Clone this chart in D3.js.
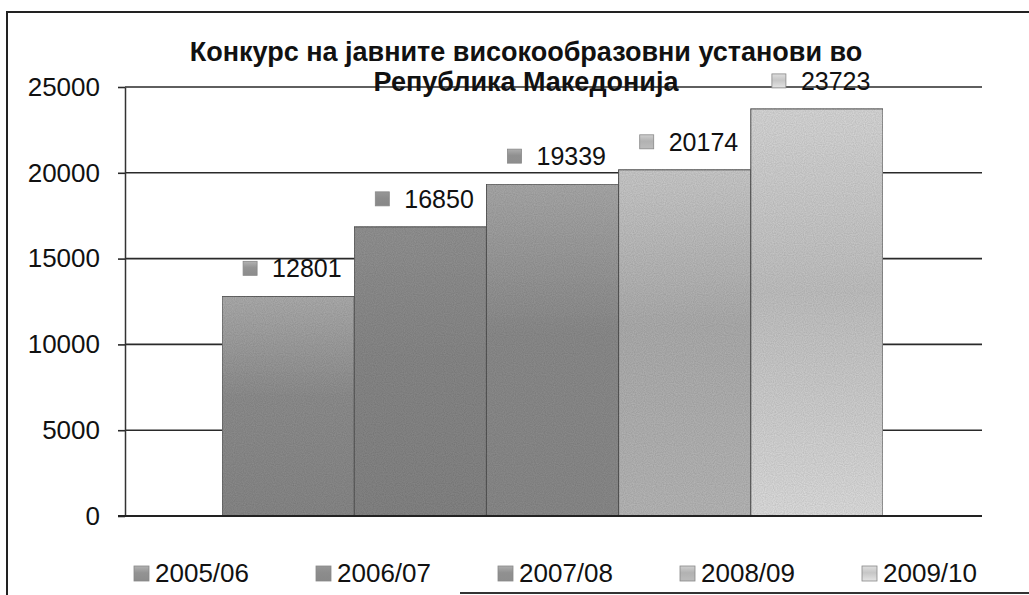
<!DOCTYPE html>
<html>
<head>
<meta charset="UTF-8">
<title>Конкурс</title>
<script src="https://d3js.org/d3.v7.min.js"></script>
<style>
    body, html { margin: 0; padding: 0; background: #fff; }
    svg { display: block; font-family: "Liberation Sans", Arial, sans-serif; }
    .tick text { font-size: 26px; fill: #111; }
</style>
</head>
<body>
<div id="chart"></div>
<script>
    // data
    const categories = ["2005/06", "2006/07", "2007/08", "2008/09", "2009/10"];
    const values = [12801, 16850, 19339, 20174, 23723];
    const yTicks = [0, 5000, 10000, 15000, 20000, 25000];
    const titleLines = ["Конкурс на јавните високообразовни установи во", "Република Македонија"];
    // gradient stops per series (top, middle, bottom)
    const barShades = [
        ["#b2b2b2", "#939393", "#8c8c8c"],
        ["#979797", "#8c8c8c", "#888888"],
        ["#aeaeae", "#909090", "#8e8e8e"],
        ["#d0d0d0", "#b2b2b2", "#bcbcbc"],
        ["#dedede", "#c6c6c6", "#e4e4e4"]
    ];

    const width = 1029, height = 595;
    const svg = d3.select("#chart").append("svg")
        .attr("width", width)
        .attr("height", height);

    const defs = svg.append("defs");
    barShades.forEach((s, i) => {
        const g = defs.append("linearGradient")
            .attr("id", "grad" + i)
            .attr("x1", 0).attr("y1", 0).attr("x2", 0).attr("y2", 1);
        g.append("stop").attr("offset", "0%").attr("stop-color", s[0]);
        g.append("stop").attr("offset", "45%").attr("stop-color", s[1]);
        g.append("stop").attr("offset", "100%").attr("stop-color", s[2]);
    });

    // grainy scan look
    const f = defs.append("filter").attr("id", "grain")
        .attr("x", 0).attr("y", 0).attr("width", 1).attr("height", 1);
    f.append("feTurbulence").attr("type", "fractalNoise")
        .attr("baseFrequency", 0.9).attr("numOctaves", 1).attr("seed", 3).attr("result", "noise");
    f.append("feColorMatrix").attr("in", "noise").attr("type", "matrix")
        .attr("values", "0 0 0 0 0  0 0 0 0 0  0 0 0 0 0  0 0 0 0.35 0").attr("result", "dots");
    f.append("feComposite").attr("in", "dots").attr("in2", "SourceGraphic").attr("operator", "in").attr("result", "d2");
    f.append("feMerge").call(m => {
        m.append("feMergeNode").attr("in", "SourceGraphic");
        m.append("feMergeNode").attr("in", "d2");
    });

    const plotLeft = 125, plotRight = 982;
    const y = d3.scaleLinear().domain([0, 25000]).range([516, 87]);
    const x = d3.scaleBand().domain(categories).range([222, 883]).paddingInner(0);

    // outer frame
    svg.append("path")
        .attr("d", "M7,595 L7,12 L1029,12")
        .attr("fill", "none").attr("stroke", "#222").attr("stroke-width", 2);
    svg.append("line")
        .attr("x1", 460).attr("x2", 1029).attr("y1", 593).attr("y2", 593)
        .attr("stroke", "#333").attr("stroke-width", 2);

    // gridlines
    svg.append("g").selectAll("line")
        .data(yTicks)
        .join("line")
        .attr("x1", plotLeft).attr("x2", plotRight)
        .attr("y1", d => y(d)).attr("y2", d => y(d))
        .attr("stroke", "#2a2a2a").attr("stroke-width", 1.6);

    // y axis
    const yAxis = svg.append("g")
        .attr("transform", `translate(${plotLeft},0)`)
        .call(d3.axisLeft(y).tickValues(yTicks).tickSize(7).tickSizeOuter(0).tickPadding(18).tickFormat(d3.format("d")));
    yAxis.select(".domain").attr("stroke", "#333").attr("stroke-width", 1.5);
    yAxis.selectAll(".tick line").attr("stroke", "#2a2a2a").attr("stroke-width", 1.6);
    yAxis.selectAll(".tick text").attr("font-family", "Liberation Sans, Arial, sans-serif");

    // bars
    svg.append("g").selectAll("rect")
        .data(values)
        .join("rect")
        .attr("x", (d, i) => x(categories[i]))
        .attr("y", d => y(d))
        .attr("width", x.bandwidth())
        .attr("height", d => y(0) - y(d))
        .attr("fill", (d, i) => `url(#grad${i})`)
        .attr("stroke", "#555")
        .attr("stroke-width", 1)
        .attr("filter", "url(#grain)");

    // x baseline
    svg.append("line")
        .attr("x1", plotLeft - 7).attr("x2", plotRight)
        .attr("y1", y(0)).attr("y2", y(0))
        .attr("stroke", "#222").attr("stroke-width", 1.8);

    // data labels
    const lab = svg.append("g").selectAll("g")
        .data(values)
        .join("g")
        .attr("transform", (d, i) => `translate(${x(categories[i]) + x.bandwidth() / 2},${y(d) - 19})`);
    lab.append("rect")
        .attr("x", -45).attr("y", -16).attr("width", 14).attr("height", 14)
        .attr("fill", (d, i) => `url(#grad${i})`)
        .attr("stroke", "#888").attr("stroke-width", 0.8);
    lab.append("text")
        .attr("x", -16).attr("y", 0)
        .attr("font-size", 25).attr("fill", "#111")
        .text(d => d);

    // title
    svg.append("text")
        .attr("x", 526).attr("y", 61)
        .attr("text-anchor", "middle")
        .attr("font-size", 27).attr("font-weight", "bold").attr("fill", "#111")
        .selectAll("tspan")
        .data(titleLines)
        .join("tspan")
        .attr("x", 526)
        .attr("dy", (d, i) => i === 0 ? 0 : 30)
        .text(d => d);

    // legend
    const leg = svg.append("g").selectAll("g")
        .data(categories)
        .join("g")
        .attr("transform", (d, i) => `translate(${134 + i * 182},582)`);
    leg.append("rect")
        .attr("x", 0).attr("y", -16).attr("width", 15).attr("height", 15)
        .attr("fill", (d, i) => `url(#grad${i})`)
        .attr("stroke", "#888").attr("stroke-width", 0.8);
    leg.append("text")
        .attr("x", 21).attr("y", 0)
        .attr("font-size", 26).attr("fill", "#111")
        .text(d => d);
</script>
</body>
</html>
